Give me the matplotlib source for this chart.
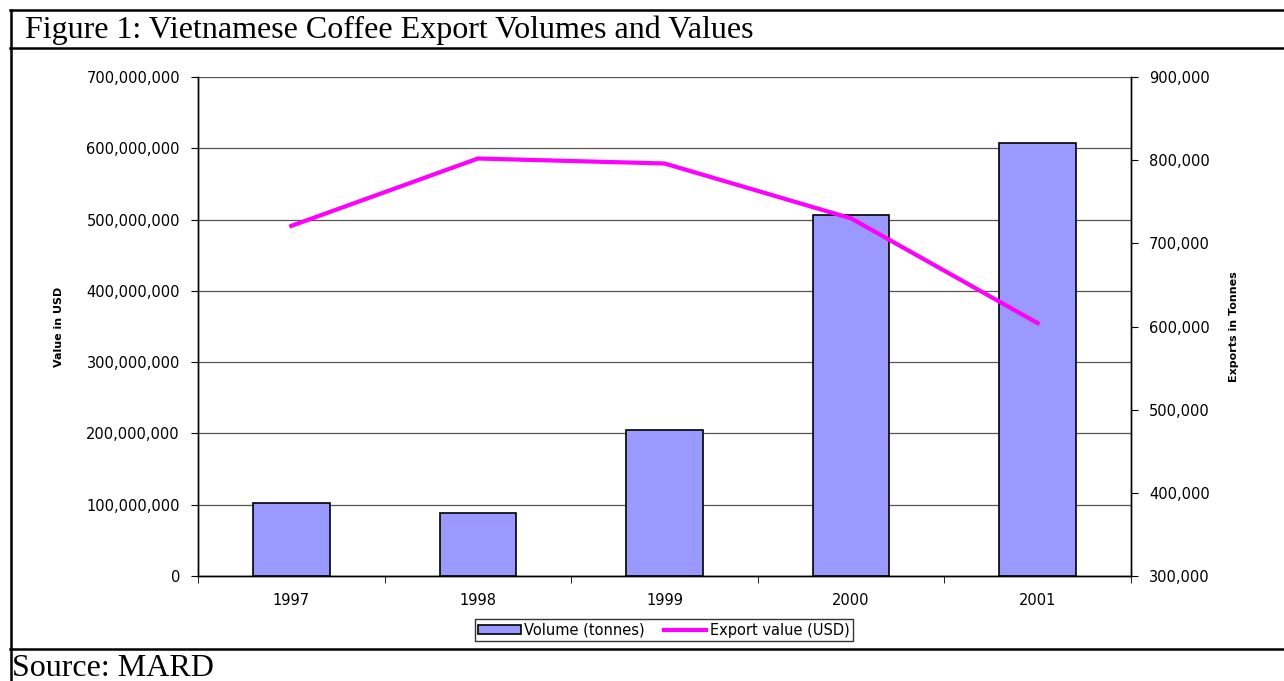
import matplotlib.pyplot as plt
from matplotlib.ticker import FuncFormatter, FixedLocator
from matplotlib.patches import Patch
from matplotlib.lines import Line2D

# =========================
# DATA
# =========================

years = ["1997", "1998", "1999", "2000", "2001"]
value_usd = [102_000_000, 88_000_000, 205_000_000, 506_000_000, 608_000_000]
exports_tonnes = [721_000, 802_000, 796_000, 730_000, 604_000]

TITLE = "Figure 1: Vietnamese Coffee Export Volumes and Values"
SOURCE = "Source: MARD"

BAR_COLOR = "#9999FF"
LINE_COLOR = "#FF00FF"
TICK_FONT = "DejaVu Sans"

W, H = 1284, 681

fig = plt.figure(figsize=(W / 100, H / 100), dpi=100)


def fx(px):
    return px / W


def fy(py):
    return 1 - py / H


# frame lines
for y in [10, 48, 649]:
    fig.add_artist(Line2D([fx(10), 1], [fy(y), fy(y)], color="black", lw=1.8))
fig.add_artist(Line2D([fx(11), fx(11)], [fy(10), 0], color="black", lw=1.8))

fig.text(fx(25), fy(30), TITLE, family="Liberation Serif", fontsize=23,
         va="center", ha="left")
fig.text(fx(12), fy(668), SOURCE, family="Liberation Serif", fontsize=23,
         va="center", ha="left")

# plot area
left, right, top, bottom = 198, 1131, 77, 576
ax = fig.add_axes([fx(left), fy(bottom), fx(right - left), (bottom - top) / H])
ax2 = ax.twinx()

x = list(range(len(years)))
ax.bar(x, value_usd, width=0.41, color=BAR_COLOR, edgecolor="black",
       linewidth=1.2, zorder=3)
ax2.plot(x, exports_tonnes, color=LINE_COLOR, lw=3, zorder=4)

ax.set_xlim(-0.5, len(years) - 0.5)
ax.set_ylim(0, 700_000_000)
ax2.set_ylim(300_000, 900_000)

ax.set_yticks(range(0, 700_000_001, 100_000_000))
ax2.set_yticks(range(300_000, 900_001, 100_000))
fmt = FuncFormatter(lambda v, p: f"{int(v):,}")
ax.yaxis.set_major_formatter(fmt)
ax2.yaxis.set_major_formatter(fmt)

ax.yaxis.grid(True, color="#555555", lw=0.9, zorder=0)
ax.set_axisbelow(True)

# category labels centred, ticks between categories
ax.set_xticks(x)
ax.set_xticklabels(years)
ax.xaxis.set_minor_locator(FixedLocator([i - 0.5 for i in range(len(years) + 1)]))
ax.tick_params(axis="x", which="major", length=0, pad=12)
ax.tick_params(axis="x", which="minor", length=5, direction="out")
ax.tick_params(axis="y", length=5, direction="out", pad=8)
ax2.tick_params(axis="y", length=5, direction="out", pad=8)

for a in (ax, ax2):
    for lab in a.get_xticklabels() + a.get_yticklabels():
        lab.set_family(TICK_FONT)
        lab.set_fontsize(10.5)
    a.spines["top"].set_visible(False)
    for s in ["left", "right", "bottom"]:
        a.spines[s].set_linewidth(1.0)

ax.set_ylabel("Value in USD", family="Liberation Sans Narrow", fontsize=8,
              fontweight="bold", labelpad=16)
ax2.set_ylabel("Exports in Tonnes", family="Liberation Sans Narrow", fontsize=8,
               fontweight="bold", labelpad=14)

handles = [
    Patch(facecolor=BAR_COLOR, edgecolor="black", linewidth=1.2),
    Line2D([0], [0], color=LINE_COLOR, lw=3),
]
fig.legend(handles, ["Volume (tonnes)", "Export value (USD)"], ncol=2,
           loc="center", bbox_to_anchor=(fx(664), fy(630)),
           prop={"family": TICK_FONT, "size": 10.5},
           frameon=True, fancybox=False, edgecolor="black",
           handlelength=2.9, handleheight=0.6, handletextpad=0.25,
           columnspacing=1.3, borderpad=0.25, borderaxespad=0)

fig.savefig("out.png", dpi=100)
